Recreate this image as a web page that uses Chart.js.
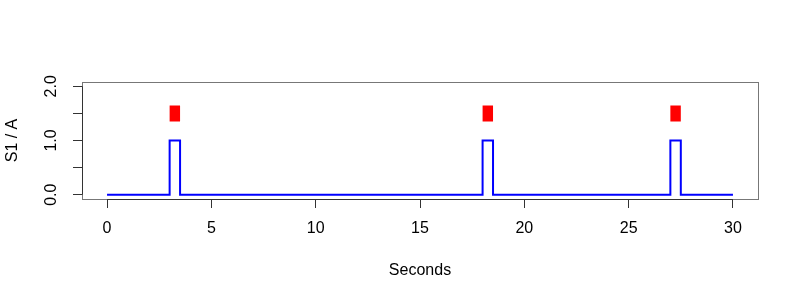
<!DOCTYPE html>
<html lang="en">

<head>
    <meta charset="UTF-8">
    <title>S1 / A pulses</title>
    <script src="https://cdn.jsdelivr.net/npm/chart.js"></script>
    <style>
        body {
            margin: 0;
            background-color: #ffffff;
        }

        .container {
            width: 800px;
            height: 300px;
        }
    </style>
</head>

<body>
    <div class="container">
        <canvas id="pulseChart" width="800" height="300"></canvas>
    </div>

    <script>
        // step signal: value holds until the next time, then jumps
        const stepTimes = [0, 3, 3.5, 18, 18.5, 27, 27.5, 30];
        const stepValues = [0, 1, 0, 1, 0, 1, 0, 0];

        // red markers above each pulse
        const markerStarts = [3, 18, 27];
        const markerEnds = [3.5, 18.5, 27.5];
        const markerLevel = 1.5;

        const xTicks = [0, 5, 10, 15, 20, 25, 30];
        const yTicks = [0, 0.5, 1, 1.5, 2];
        const yLabelled = [0, 1, 2];

        const FONT = '"Liberation Sans", Arial, Helvetica, sans-serif';

        const stepData = stepTimes.map((t, i) => ({ x: t, y: stepValues[i] }));
        const markerData = [];
        markerStarts.forEach((s, i) => {
            markerData.push({ x: s, y: markerLevel });
            markerData.push({ x: markerEnds[i], y: markerLevel });
            markerData.push({ x: markerEnds[i], y: null });
        });

        // R-style frame: grey box plus dark axis lines spanning only the tick range
        const framePlugin = {
            id: 'frame',
            afterDraw(chart) {
                const { ctx, chartArea: a, scales: { x, y } } = chart;
                ctx.save();
                ctx.strokeStyle = '#777777';
                ctx.lineWidth = 1;
                ctx.strokeRect(a.left + 0.5, a.top + 0.5, a.right - a.left, a.bottom - a.top);
                ctx.strokeStyle = '#333333';
                ctx.beginPath();
                ctx.moveTo(x.getPixelForValue(xTicks[0]), a.bottom + 0.5);
                ctx.lineTo(x.getPixelForValue(xTicks[xTicks.length - 1]), a.bottom + 0.5);
                ctx.moveTo(a.left + 0.5, y.getPixelForValue(yTicks[0]));
                ctx.lineTo(a.left + 0.5, y.getPixelForValue(yTicks[yTicks.length - 1]));
                ctx.stroke();
                ctx.restore();
            }
        };

        const ctx = document.getElementById('pulseChart').getContext('2d');

        new Chart(ctx, {
            type: 'line',
            data: {
                datasets: [{
                    label: 'markers',
                    data: markerData,
                    borderColor: '#ff0000',
                    borderWidth: 16,
                    borderCapStyle: 'butt',
                    pointRadius: 0,
                    spanGaps: false
                }, {
                    label: 'S1',
                    data: stepData,
                    borderColor: '#0000ff',
                    borderWidth: 2,
                    stepped: true,
                    pointRadius: 0
                }]
            },
            options: {
                responsive: false,
                animation: false,
                layout: {
                    padding: { top: 82, right: 42, left: 0, bottom: 0 }
                },
                plugins: {
                    legend: { display: false },
                    tooltip: { enabled: false }
                },
                scales: {
                    x: {
                        type: 'linear',
                        min: -1.2,
                        max: 31.2,
                        afterBuildTicks: (scale) => {
                            scale.ticks = xTicks.map(v => ({ value: v }));
                        },
                        afterFit: (scale) => { scale.height = 101; },
                        grid: {
                            drawOnChartArea: false,
                            tickLength: 9,
                            tickColor: '#333333'
                        },
                        border: { display: false },
                        ticks: {
                            color: '#000000',
                            font: { family: FONT, size: 16 },
                            padding: 11,
                            maxRotation: 0,
                            callback: (v) => String(v)
                        },
                        title: {
                            display: true,
                            text: 'Seconds',
                            color: '#000000',
                            font: { family: FONT, size: 16 },
                            padding: { top: 0, bottom: 20 }
                        }
                    },
                    y: {
                        type: 'linear',
                        min: -0.08,
                        max: 2.08,
                        afterBuildTicks: (scale) => {
                            scale.ticks = yTicks.map(v => ({ value: v }));
                        },
                        afterFit: (scale) => { scale.width = 82; },
                        grid: {
                            drawOnChartArea: false,
                            tickLength: 9,
                            tickColor: '#333333'
                        },
                        border: { display: false },
                        ticks: {
                            color: '#000000',
                            font: { family: FONT, size: 16 },
                            padding: 10,
                            minRotation: 90,
                            maxRotation: 90,
                            crossAlign: 'center',
                            callback: (v) => yLabelled.includes(v) ? v.toFixed(1) : ''
                        },
                        title: {
                            display: true,
                            text: 'S1 / A',
                            color: '#000000',
                            font: { family: FONT, size: 16 },
                            padding: { top: 3, bottom: 0 }
                        }
                    }
                }
            },
            plugins: [framePlugin]
        });
    </script>
</body>

</html>
